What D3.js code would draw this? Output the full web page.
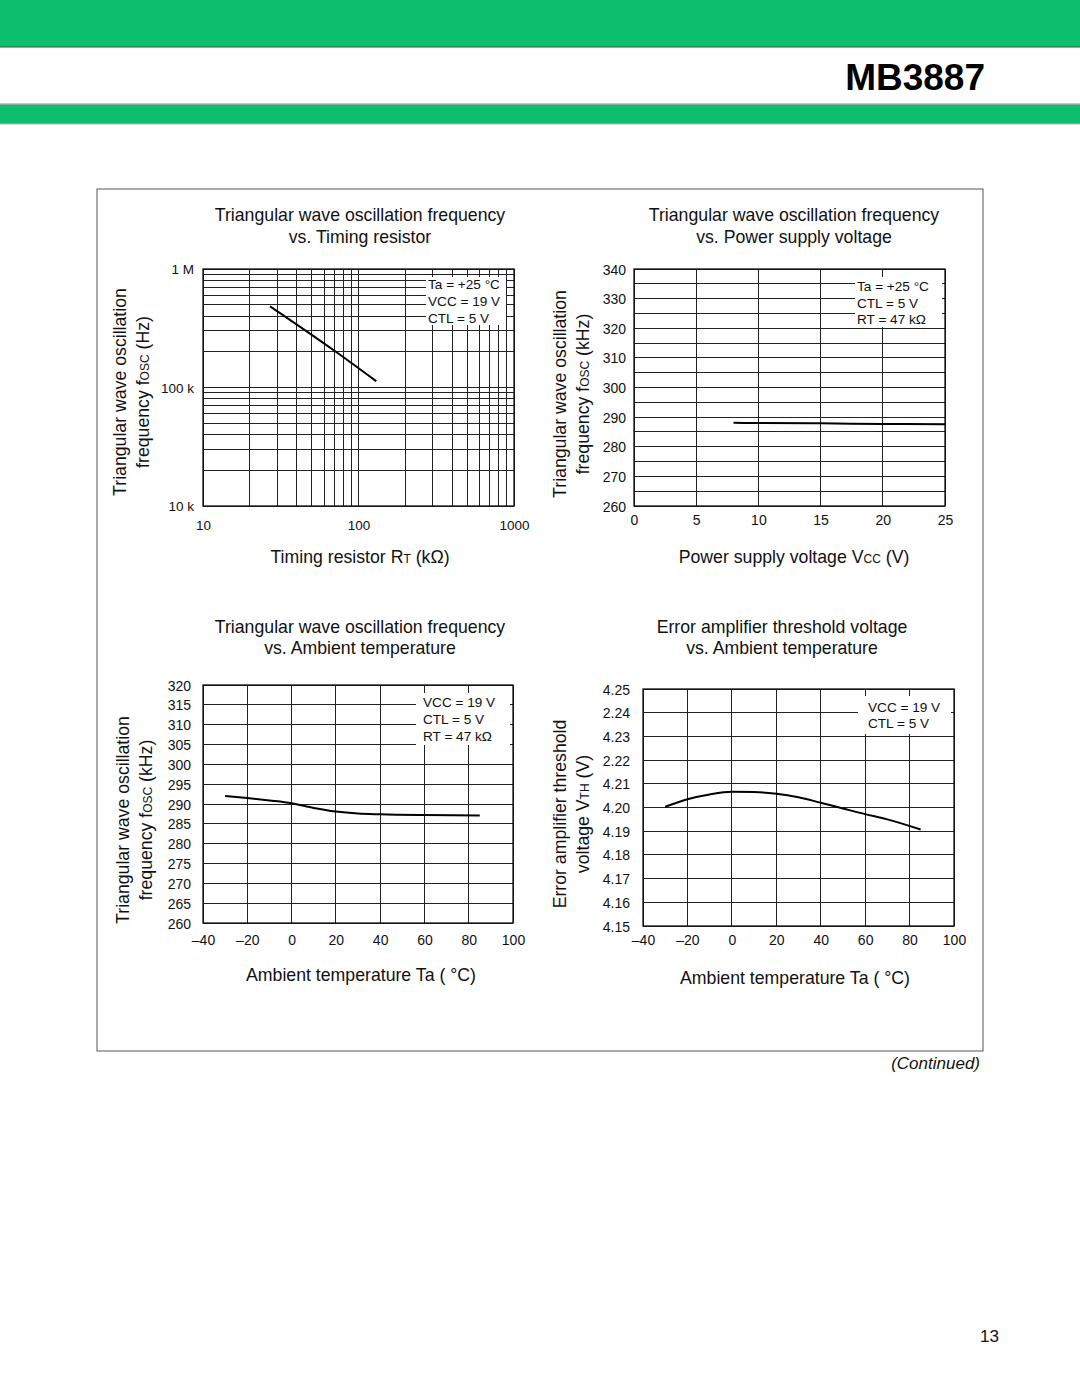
<!DOCTYPE html>
<html><head><meta charset="utf-8">
<script src="https://cdn.jsdelivr.net/npm/d3@7"></script>
<style>
html,body{margin:0;padding:0;background:#fff;}
text{font-family:"Liberation Sans",Arial,Helvetica,sans-serif;fill:#111;}
</style></head>
<body>
<svg id="page" width="1080" height="1397"></svg>
<script>
// ---------- DATA ----------
// Chart 1: fosc vs timing resistor (log-log)
const c1_rt = [27, 69, 130];               // kΩ
const c1_fosc = [484000, 207000, 113000];  // Hz
const c1_xTicks = [10, 100, 1000];
const c1_xLabels = ["10", "100", "1000"];
const c1_yTicks = [1e4, 1e5, 1e6];
const c1_yLabels = ["10 k", "100 k", "1 M"];
const c1_legend = ["Ta = +25 °C", "VCC = 19 V", "CTL = 5 V"];

// Chart 2: fosc vs supply voltage
const c2_vcc = [8, 10, 15, 20, 25];
const c2_fosc = [288.1, 288.0, 287.9, 287.7, 287.6];
const c2_xTicks = [0, 5, 10, 15, 20, 25];
const c2_xLabels = ["0", "5", "10", "15", "20", "25"];
const c2_yTicks = [260, 270, 280, 290, 300, 310, 320, 330, 340];
const c2_yLabels = ["260", "270", "280", "290", "300", "310", "320", "330", "340"];
const c2_legend = ["Ta = +25 °C", "CTL = 5 V", "RT = 47 kΩ"];

// Chart 3: fosc vs ambient temperature
const c3_ta = [-30, -20, -10, 0, 10, 20, 30, 40, 60, 85];
const c3_fosc = [292.0, 291.5, 290.9, 290.2, 289.0, 288.1, 287.6, 287.4, 287.2, 287.1];
const c3_xTicks = [-40, -20, 0, 20, 40, 60, 80, 100];
const c3_xLabels = ["–40", "–20", "0", "20", "40", "60", "80", "100"];
const c3_yTicks = [260, 265, 270, 275, 280, 285, 290, 295, 300, 305, 310, 315, 320];
const c3_yLabels = ["260", "265", "270", "275", "280", "285", "290", "295", "300", "305", "310", "315", "320"];
const c3_legend = ["VCC = 19 V", "CTL = 5 V", "RT = 47 kΩ"];

// Chart 4: error amp threshold vs ambient temperature
const c4_ta = [-30, -20, -10, 0, 10, 20, 30, 40, 50, 60, 70, 85];
const c4_vth = [4.2003, 4.2035, 4.2055, 4.2066, 4.2065, 4.2058, 4.2043, 4.2020, 4.1996, 4.1972, 4.1950, 4.1907];
const c4_xTicks = [-40, -20, 0, 20, 40, 60, 80, 100];
const c4_xLabels = ["–40", "–20", "0", "20", "40", "60", "80", "100"];
const c4_yTicks = [4.15, 4.16, 4.17, 4.18, 4.19, 4.20, 4.21, 4.22, 4.23, 4.24, 4.25];
const c4_yLabels = ["4.15", "4.16", "4.17", "4.18", "4.19", "4.20", "4.21", "2.22", "4.23", "2.24", "4.25"];
const c4_legend = ["VCC = 19 V", "CTL = 5 V"];

// ---------- PAGE ----------
const svg = d3.select("#page");
const GREEN = "#0bbf6c";
svg.append("rect").attr("x",0).attr("y",0).attr("width",1080).attr("height",46.5).attr("fill",GREEN);
svg.append("line").attr("x1",0).attr("x2",1080).attr("y1",46.8).attr("y2",46.8).attr("stroke","#0a6e3a").attr("stroke-width",1.2);
svg.append("line").attr("x1",0).attr("x2",1080).attr("y1",104.2).attr("y2",104.2).attr("stroke","#888").attr("stroke-width",1.2);
svg.append("rect").attr("x",0).attr("y",104.8).attr("width",1080).attr("height",18.6).attr("fill",GREEN);
svg.append("line").attr("x1",0).attr("x2",1080).attr("y1",123.8).attr("y2",123.8).attr("stroke","#888").attr("stroke-width",1);
svg.append("text").attr("x",985).attr("y",90).attr("text-anchor","end")
  .style("font-size","37px").style("font-weight","bold").style("fill","#000").text("MB3887");

svg.append("rect").attr("x",97).attr("y",189).attr("width",886).attr("height",862)
  .attr("fill","none").attr("stroke","#555").attr("stroke-width",1);

svg.append("text").attr("x",980).attr("y",1069).attr("text-anchor","end")
  .style("font-size","17px").style("font-style","italic").text("(Continued)");
svg.append("text").attr("x",999).attr("y",1342).attr("text-anchor","end")
  .style("font-size","17px").text("13");

// ---------- CHART DRAWER ----------
function drawChart(o) {
  const g = svg.append("g");
  const x = o.xScale.range([o.x0, o.x1]);
  const y = o.yScale.range([o.y1, o.y0]);

  // grid
  const gg = g.append("g").attr("stroke","#222").attr("stroke-width",1).attr("shape-rendering","crispEdges");
  o.xGrid.forEach(v => gg.append("line").attr("x1",x(v)).attr("x2",x(v)).attr("y1",o.y0).attr("y2",o.y1));
  o.yGrid.forEach(v => gg.append("line").attr("x1",o.x0).attr("x2",o.x1).attr("y1",y(v)).attr("y2",y(v)));

  // legend background & text
  const lg = g.append("g");
  lg.append("rect").attr("x",o.leg.x0).attr("y",o.leg.y0)
    .attr("width",o.leg.x1-o.leg.x0).attr("height",o.leg.y1-o.leg.y0).attr("fill","#fff");
  o.legend.forEach((t,i) => lg.append("text").attr("x",o.leg.tx).attr("y",o.leg.ty[i])
    .style("font-size","13.6px").text(t));

  // frame
  g.append("rect").attr("x",o.x0).attr("y",o.y0).attr("width",o.x1-o.x0).attr("height",o.y1-o.y0)
    .attr("fill","none").attr("stroke","#111").attr("stroke-width",1.3);

  // axes (labels only)
  const ax = d3.axisBottom(x).tickValues(o.xTicks).tickSize(0).tickPadding(0)
    .tickFormat((d,i) => o.xLabels[i]);
  const xa = g.append("g").attr("transform",`translate(0,${o.y1 + o.xLabOff})`).call(ax);
  xa.select(".domain").remove();
  xa.selectAll("text").style("font-size",o.tickSize+"px").attr("dy","0.36em").attr("y",0)
    .style("font-family",'"Liberation Sans",Arial,sans-serif').attr("fill","#111");

  const ay = d3.axisLeft(y).tickValues(o.yTicks).tickSize(0).tickPadding(0)
    .tickFormat((d,i) => o.yLabels[i]);
  const ya = g.append("g").attr("transform",`translate(${o.x0 - o.yLabOff},0)`).call(ay);
  ya.select(".domain").remove();
  ya.selectAll("text").style("font-size",o.tickSize+"px").attr("dy","0.36em").attr("x",0)
    .style("font-family",'"Liberation Sans",Arial,sans-serif').attr("fill","#111");

  // data line
  const pts = o.xs.map((v,i) => [v, o.ys[i]]);
  g.append("path").datum(pts)
    .attr("d", d3.line().x(d => x(d[0])).y(d => y(d[1])).curve(d3.curveMonotoneX))
    .attr("fill","none").attr("stroke","#000").attr("stroke-width",2);

  // titles
  o.title.forEach((t,i) => g.append("text").attr("x",o.tcx).attr("y",o.tby[i])
    .attr("text-anchor","middle").style("font-size","17.7px").text(t));

  // x label
  const xl = g.append("text").attr("x",o.xlx).attr("y",o.xly).attr("text-anchor","middle").style("font-size","17.7px");
  o.xLabel.forEach(p => xl.append("tspan").style("font-size", p[1] ? "12px" : "17.7px").text(p[0]));

  // y label (rotated)
  o.yLabel.forEach((line,i) => {
    const t = g.append("text").attr("transform",`translate(${o.ylx[i]},${o.ylcy}) rotate(-90)`)
      .attr("text-anchor","middle").style("font-size","17.7px");
    line.forEach(p => t.append("tspan").style("font-size", p[1] ? "12px" : "17.7px").text(p[0]));
  });
}

// log minor grid for chart 1
const c1_xGrid = [], c1_yGrid = [];
[10,100].forEach(d => { for (let k=1;k<=9;k++) c1_xGrid.push(d*k); }); c1_xGrid.push(1000);
[1e4,1e5].forEach(d => { for (let k=1;k<=9;k++) c1_yGrid.push(d*k); }); c1_yGrid.push(1e6);

drawChart({
  x0:203, x1:514, y0:269, y1:506,
  xScale: d3.scaleLog().domain([10,1000]), yScale: d3.scaleLog().domain([1e4,1e6]),
  xGrid: c1_xGrid, yGrid: c1_yGrid,
  xTicks: c1_xTicks, xLabels: c1_xLabels, yTicks: c1_yTicks, yLabels: c1_yLabels,
  tickSize: 13.5, xLabOff: 19, yLabOff: 9,
  xs: c1_rt, ys: c1_fosc,
  legend: c1_legend, leg: {x0:426, x1:506, y0:277, y1:325, tx:428, ty:[289, 306, 323]},
  title: ["Triangular wave oscillation frequency", "vs. Timing resistor"], tcx: 360, tby:[221, 243],
  xLabel: [["Timing resistor R",0],["T",1],[" (kΩ)",0]], xlx: 360, xly: 563,
  yLabel: [[["Triangular wave oscillation",0]], [["frequency f",0],["OSC",1],[" (Hz)",0]]],
  ylx: [126, 149], ylcy: 392
});

drawChart({
  x0:634, x1:945, y0:269, y1:506,
  xScale: d3.scaleLinear().domain([0,25]), yScale: d3.scaleLinear().domain([260,340]),
  xGrid: d3.range(0,26,5), yGrid: d3.range(260,341,5),
  xTicks: c2_xTicks, xLabels: c2_xLabels, yTicks: c2_yTicks, yLabels: c2_yLabels,
  tickSize: 14, xLabOff: 14, yLabOff: 8,
  xs: c2_vcc, ys: c2_fosc,
  legend: c2_legend, leg: {x0:855, x1:942, y0:277, y1:327, tx:857, ty:[291, 308, 324]},
  title: ["Triangular wave oscillation frequency", "vs. Power supply voltage"], tcx: 794, tby:[221, 243],
  xLabel: [["Power supply voltage V",0],["CC",1],[" (V)",0]], xlx: 794, xly: 563,
  yLabel: [[["Triangular wave oscillation",0]], [["frequency f",0],["OSC",1],[" (kHz)",0]]],
  ylx: [566, 589], ylcy: 394
});

drawChart({
  x0:203, x1:513, y0:685, y1:923,
  xScale: d3.scaleLinear().domain([-40,100]), yScale: d3.scaleLinear().domain([260,320]),
  xGrid: d3.range(-40,101,20), yGrid: d3.range(260,321,5),
  xTicks: c3_xTicks, xLabels: c3_xLabels, yTicks: c3_yTicks, yLabels: c3_yLabels,
  tickSize: 14, xLabOff: 17, yLabOff: 12,
  xs: c3_ta, ys: c3_fosc,
  legend: c3_legend, leg: {x0:416, x1:510, y0:693, y1:745, tx:423, ty:[707, 724, 741]},
  title: ["Triangular wave oscillation frequency", "vs. Ambient temperature"], tcx: 360, tby:[633, 654],
  xLabel: [["Ambient temperature Ta ( °C)",0]], xlx: 361, xly: 981,
  yLabel: [[["Triangular wave oscillation",0]], [["frequency f",0],["OSC",1],[" (kHz)",0]]],
  ylx: [129, 152], ylcy: 820
});

drawChart({
  x0:643, x1:954, y0:689, y1:926,
  xScale: d3.scaleLinear().domain([-40,100]), yScale: d3.scaleLinear().domain([4.15,4.25]),
  xGrid: d3.range(-40,101,20), yGrid: c4_yTicks,
  xTicks: c4_xTicks, xLabels: c4_xLabels, yTicks: c4_yTicks, yLabels: c4_yLabels,
  tickSize: 14, xLabOff: 14, yLabOff: 13,
  xs: c4_ta, ys: c4_vth,
  legend: c4_legend, leg: {x0:858, x1:951, y0:696, y1:734, tx:868, ty:[712, 728]},
  title: ["Error amplifier threshold voltage", "vs. Ambient temperature"], tcx: 782, tby:[633, 654],
  xLabel: [["Ambient temperature Ta ( °C)",0]], xlx: 795, xly: 984,
  yLabel: [[["Error amplifier threshold",0]], [["voltage V",0],["TH",1],[" (V)",0]]],
  ylx: [566, 589], ylcy: 814
});
</script>
</body></html>
